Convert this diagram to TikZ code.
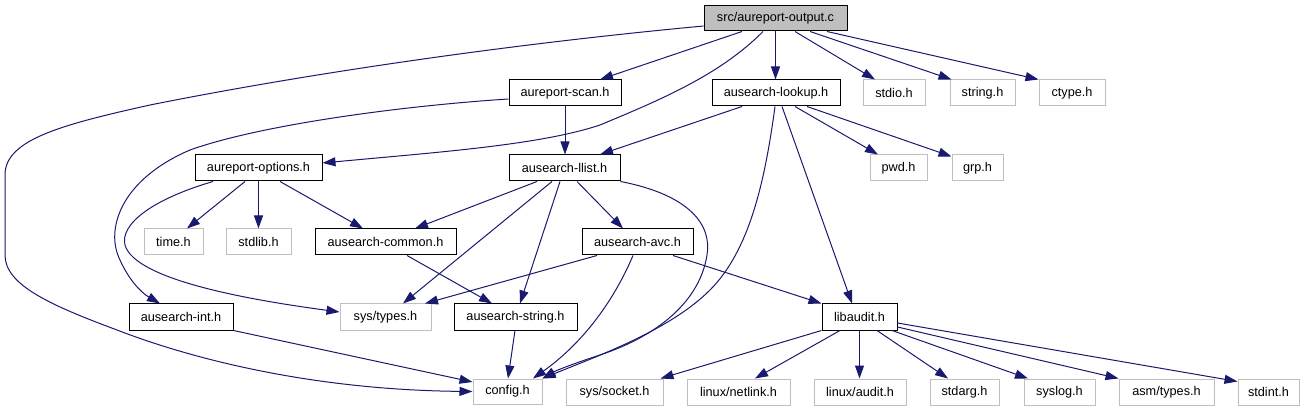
\documentclass[tikz,border=0pt]{standalone}
\usepackage{fontspec}
\setmainfont{Liberation Sans}
\usetikzlibrary{arrows.meta}
\definecolor{edgeblue}{HTML}{191970}
\definecolor{extgray}{HTML}{BFBFBF}
\tikzset{
  box/.style={rectangle, inner sep=0pt, minimum height=26pt, line width=1pt, fill=white,
    font=\fontsize{12.7pt}{14pt}\selectfont, text=black},
  doc/.style={box, draw=black},
  ext/.style={box, draw=extgray},
  root/.style={box, draw=black, fill=extgray},
  edge/.style={draw=edgeblue, line width=1pt, -{Triangle[length=13pt,width=9pt]}}
}
\begin{document}
\begin{tikzpicture}[x=1pt,y=-1pt]
\useasboundingbox (0,0) rectangle (1308,411);
% row 1
\node[root, minimum width=143pt, minimum height=25pt] (out) at (775.5,18.5) {src/aureport-output.c};
% row 2
\node[doc, minimum width=112pt] (scan) at (565,93) {aureport-scan.h};
\node[doc, minimum width=128pt] (lookup) at (776,93) {ausearch-lookup.h};
\node[ext, minimum width=62pt] (stdio) at (894,93) {stdio.h};
\node[ext, minimum width=65pt] (stringh) at (982.5,93) {string.h};
\node[ext, minimum width=66pt] (ctype) at (1072,93) {ctype.h};
% row 3
\node[doc, minimum width=127pt] (options) at (258.5,168) {aureport-options.h};
\node[doc, minimum width=111pt] (llist) at (564.5,168) {ausearch-llist.h};
\node[ext, minimum width=57pt] (pwd) at (898.5,168) {pwd.h};
\node[ext, minimum width=51pt] (grp) at (977.5,168) {grp.h};
% row 4
\node[ext, minimum width=59pt] (time) at (173.5,242) {time.h};
\node[ext, minimum width=65pt] (stdlib) at (258.5,242) {stdlib.h};
\node[doc, minimum width=141pt] (common) at (385.5,242) {ausearch-common.h};
\node[doc, minimum width=111pt] (avc) at (637.5,242) {ausearch-avc.h};
% row 5
\node[doc, minimum width=104pt] (int) at (181,317) {ausearch-int.h};
\node[ext, minimum width=91pt] (systypes) at (385.5,317) {sys/types.h};
\node[doc, minimum width=123pt] (asstring) at (515.5,317) {ausearch-string.h};
\node[doc, minimum width=75pt] (libaudit) at (859.5,317) {libaudit.h};
% row 6
\node[ext, minimum width=69pt, minimum height=25pt] (config) at (507.5,391.5) {config.h};
\node[ext, minimum width=97pt] (syssocket) at (614.5,392) {sys/socket.h};
\node[ext, minimum width=103pt] (netlink) at (738.5,392) {linux/netlink.h};
\node[ext, minimum width=92pt] (linuxaudit) at (860,392) {linux/audit.h};
\node[ext, minimum width=69pt] (stdarg) at (964.5,392) {stdarg.h};
\node[ext, minimum width=71pt] (syslog) at (1059.5,392) {syslog.h};
\node[ext, minimum width=95pt] (asmtypes) at (1166.5,392) {asm/types.h};
\node[ext, minimum width=61pt] (stdint) at (1268.5,392) {stdint.h};
% edges from out
\draw[edge] ([xshift=-33.5pt]out.south) -- ([xshift=35pt]scan.north);
\draw[edge] ([xshift=-12.5pt]out.south) .. controls (720,75) and (660,100) .. (600,125) .. controls (540,145) and (440,152) .. ([yshift=5pt]options.east);
\draw[edge] (out.south) -- (out.south |- lookup.north);
\draw[edge] ([xshift=19.5pt]out.south) -- ([xshift=-19pt]stdio.north);
\draw[edge] ([xshift=34.5pt]out.south) -- ([xshift=2pt]stringh.north west);
\draw[edge] ([xshift=51.5pt]out.south) -- (ctype.north west);
\draw[edge] ([yshift=-7.5pt]out.west) .. controls (500,45) and (300,75) .. (150,105) .. controls (60,125) and (5,140) .. (5,175) -- (5,255) .. controls (5,285) and (50,305) .. (117,330) .. controls (200,362) and (320,390) .. (config.west);
% scan
\draw[edge] (scan.south) -- (scan.south |- llist.north);
\draw[edge] ([yshift=-6pt]scan.west) .. controls (400,106) and (260,125) .. (190,150) .. controls (120,180) and (105,230) .. (120,260) .. controls (128,278) and (140,292) .. ([xshift=-21pt]int.north);
% lookup
\draw[edge] ([xshift=-34pt]lookup.south) -- ([xshift=35.5pt]llist.north);
\draw[edge] ([xshift=-1pt]lookup.south) .. controls (765,180) and (750,250) .. (710,290) .. controls (670,330) and (600,355) .. (config.north east);
\draw[edge] ([xshift=6pt]lookup.south) -- ([xshift=-7.5pt]libaudit.north);
\draw[edge] ([xshift=19pt]lookup.south) -- ([xshift=-20.5pt]pwd.north);
\draw[edge] ([xshift=31pt]lookup.south) -- ([yshift=-2pt]grp.north west);
% options
\draw[edge] ([xshift=-13.5pt]options.south) -- ([xshift=13.5pt]time.north);
\draw[edge] (options.south) -- (stdlib.north);
\draw[edge] ([xshift=21.5pt]options.south) -- ([xshift=-22.5pt]common.north);
\draw[edge] ([xshift=-45.5pt]options.south) .. controls (150,200) and (120,225) .. (125,245) .. controls (135,280) and (250,300) .. ([yshift=5pt]systypes.west);
% llist
\draw[edge] ([xshift=-27.5pt]llist.south) -- ([xshift=29.5pt]common.north);
\draw[edge] ([xshift=-12.5pt]llist.south) -- ([xshift=17.5pt]systypes.north);
\draw[edge] ([xshift=-4.5pt]llist.south) -- ([xshift=4.5pt]asstring.north);
\draw[edge] ([xshift=12.5pt]llist.south) -- ([xshift=-14.5pt]avc.north);
\draw[edge] (llist.south east) .. controls (690,195) and (712,225) .. (707,255) .. controls (700,300) and (660,335) .. (600,355) .. controls (575,363) and (555,371) .. (config.north east);
% common
\draw[edge] ([xshift=21.5pt]common.south) -- ([xshift=-23.5pt]asstring.north);
% avc
\draw[edge] ([xshift=-40.5pt]avc.south) -- ([xshift=39.5pt]systypes.north);
\draw[edge] ([xshift=-4.5pt]avc.south) .. controls (612,305) and (580,345) .. ([xshift=25.5pt]config.north);
\draw[edge] ([xshift=35.5pt]avc.south) -- (libaudit.north west);
% int, string
\draw[edge] (int.south east) -- ([yshift=9.5pt]config.west);
\draw[edge] ([xshift=-0.5pt]asstring.south) -- ([xshift=0.5pt]config.north);
% libaudit
\draw[edge] (libaudit.south west) -- ([xshift=-3pt]syssocket.north east);
\draw[edge] ([xshift=-19.5pt]libaudit.south) -- ([xshift=16.5pt]netlink.north);
\draw[edge] (libaudit.south) -- (libaudit.south |- linuxaudit.north);
\draw[edge] ([xshift=17.5pt]libaudit.south) -- ([xshift=-16.5pt]stdarg.north);
\draw[edge] ([xshift=32.5pt]libaudit.south) -- ([xshift=-31.5pt]syslog.north);
\draw[edge] ([yshift=-10pt]libaudit.east) -- (asmtypes.north west);
\draw[edge] ([yshift=-6pt]libaudit.east) -- ([yshift=-3pt]stdint.north west);
\end{tikzpicture}
\end{document}
